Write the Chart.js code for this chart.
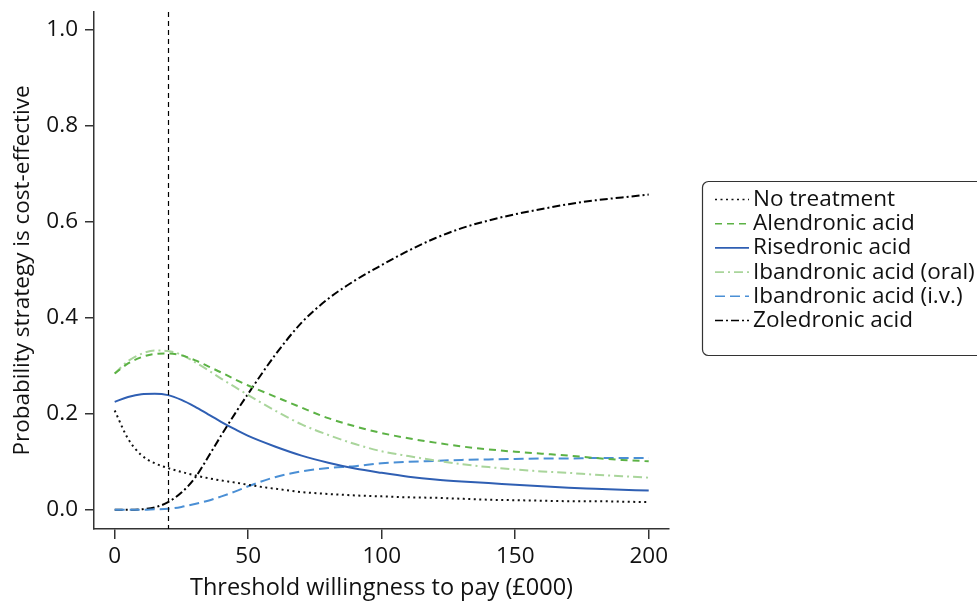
<!DOCTYPE html>
<html>
<head>
<meta charset="utf-8">
<script src="https://cdn.jsdelivr.net/npm/chart.js@4.4.1/dist/chart.umd.min.js"></script>
<style>
  body { margin: 0; background: #fff; }
  #wrap { width: 977px; height: 601px; }
</style>
</head>
<body>
<div id="wrap"><canvas id="ceacChart" width="977" height="601"></canvas></div>
<script>
// willingness-to-pay thresholds (£000)
const wtp = [0, 5, 10, 15, 20, 25, 30, 35, 40, 45, 50, 60, 70, 80, 90, 100, 110, 120, 130, 140, 150, 160, 170, 180, 190, 200];

const noTreatment   = [0.207, 0.148, 0.114, 0.097, 0.087, 0.079, 0.072, 0.066, 0.061, 0.057, 0.052, 0.044, 0.037, 0.033, 0.030, 0.028, 0.026, 0.025, 0.023, 0.021, 0.020, 0.019, 0.018, 0.018, 0.017, 0.016];
const alendronic    = [0.284, 0.305, 0.318, 0.325, 0.326, 0.322, 0.312, 0.299, 0.286, 0.272, 0.259, 0.236, 0.213, 0.191, 0.174, 0.160, 0.149, 0.140, 0.132, 0.126, 0.121, 0.117, 0.113, 0.108, 0.104, 0.101];
const risedronic    = [0.225, 0.235, 0.241, 0.242, 0.239, 0.229, 0.215, 0.199, 0.183, 0.168, 0.154, 0.132, 0.113, 0.098, 0.086, 0.077, 0.069, 0.063, 0.059, 0.056, 0.052, 0.049, 0.046, 0.044, 0.042, 0.040];
const ibandronicOral = [0.284, 0.310, 0.325, 0.332, 0.331, 0.323, 0.308, 0.291, 0.273, 0.256, 0.239, 0.207, 0.178, 0.156, 0.137, 0.122, 0.112, 0.103, 0.095, 0.089, 0.084, 0.080, 0.077, 0.073, 0.070, 0.067];
const ibandronicIV  = [0.000, 0.000, 0.000, 0.001, 0.002, 0.006, 0.012, 0.019, 0.028, 0.038, 0.049, 0.068, 0.080, 0.087, 0.091, 0.097, 0.100, 0.102, 0.104, 0.105, 0.106, 0.107, 0.107, 0.108, 0.108, 0.108];
const zoledronic    = [0.000, 0.000, 0.001, 0.005, 0.016, 0.036, 0.066, 0.110, 0.156, 0.200, 0.242, 0.322, 0.390, 0.440, 0.478, 0.510, 0.540, 0.566, 0.587, 0.603, 0.616, 0.627, 0.637, 0.645, 0.651, 0.657];

const seriesNames = ['No treatment', 'Alendronic acid', 'Risedronic acid', 'Ibandronic acid (oral)', 'Ibandronic acid (i.v.)', 'Zoledronic acid'];
const xTickValues = [0, 50, 100, 150, 200];
const yTickValues = [0.0, 0.2, 0.4, 0.6, 0.8, 1.0];
const wtpThreshold = 20;

const FONT = "'Open Sans', 'DejaVu Sans', sans-serif";
const FONT_SIZE = 22.5;
const AXIS_COLOR = '#333333';

function pts(values) {
    return values.map((v, i) => ({x: wtp[i], y: v}));
}

const styles = [
    {color: '#111111', dash: [2, 3.5], width: 2},
    {color: '#5cb245', dash: [7, 5], width: 2},
    {color: '#2f5fb3', dash: [], width: 2},
    {color: '#a9d59b', dash: [9, 4, 2, 4], width: 2},
    {color: '#4a8fd5', dash: [10, 5], width: 2},
    {color: '#000000', dash: [8, 3, 2, 3], width: 2}
];
const allValues = [noTreatment, alendronic, risedronic, ibandronicOral, ibandronicIV, zoledronic];

const datasets = allValues.map((vals, i) => ({
    label: seriesNames[i],
    data: pts(vals),
    borderColor: styles[i].color,
    borderDash: styles[i].dash,
    borderWidth: styles[i].width,
    pointRadius: 0,
    fill: false,
    cubicInterpolationMode: 'monotone'
}));

// dashed vertical line at the threshold + legend drawn in a box
const extras = {
    id: 'extras',
    afterDatasetsDraw(chart) {
        const ctx = chart.ctx;
        const area = chart.chartArea;
        const xs = chart.scales.x.getPixelForValue(wtpThreshold);
        ctx.save();
        ctx.strokeStyle = '#000';
        ctx.lineWidth = 1.2;
        ctx.setLineDash([5, 4]);
        ctx.beginPath();
        ctx.moveTo(Math.round(xs) + 0.5, area.top);
        ctx.lineTo(Math.round(xs) + 0.5, area.bottom);
        ctx.stroke();
        ctx.restore();
    },
    afterDraw(chart) {
        const ctx = chart.ctx;
        ctx.save();
        // legend frame
        ctx.strokeStyle = AXIS_COLOR;
        ctx.lineWidth = 1.2;
        ctx.setLineDash([]);
        ctx.beginPath();
        ctx.roundRect(702.5, 181.5, 320, 174, 6);
        ctx.stroke();
        ctx.font = FONT_SIZE + 'px ' + FONT;
        ctx.textBaseline = 'middle';
        ctx.fillStyle = '#111';
        chart.data.datasets.forEach((ds, i) => {
            const y = 199.5 + i * 24.2;
            ctx.strokeStyle = ds.borderColor;
            ctx.lineWidth = 1.6;
            ctx.setLineDash(ds.borderDash);
            ctx.beginPath();
            ctx.moveTo(715, y);
            ctx.lineTo(749, y);
            ctx.stroke();
            ctx.fillText(ds.label, 753, y);
        });
        ctx.restore();
    }
};

new Chart(document.getElementById('ceacChart').getContext('2d'), {
    type: 'line',
    data: {datasets: datasets},
    plugins: [extras],
    options: {
        responsive: false,
        animation: false,
        layout: {padding: {left: 0, right: 308, top: 12, bottom: 0}},
        plugins: {legend: {display: false}, tooltip: {enabled: false}},
        scales: {
            x: {
                type: 'linear',
                min: -7.75,
                max: 207.6,
                afterBuildTicks: s => { s.ticks = xTickValues.map(v => ({value: v})); },
                afterFit: s => { s.height = 72; s.paddingLeft = 0; s.paddingRight = 0; },
                border: {display: true, color: AXIS_COLOR, width: 1.5},
                grid: {drawOnChartArea: false, drawTicks: true, tickLength: 10, color: AXIS_COLOR, lineWidth: 1.5},
                ticks: {color: '#111', padding: 4, maxRotation: 0, font: {family: FONT, size: FONT_SIZE}, callback: v => String(v)},
                title: {display: true, text: 'Threshold willingness to pay (£000)', color: '#111', font: {family: FONT, size: 23.5}, padding: {top: 0, bottom: -1}}
            },
            y: {
                type: 'linear',
                min: -0.04,
                max: 1.0375,
                afterBuildTicks: s => { s.ticks = yTickValues.map(v => ({value: v})); },
                afterFit: s => { s.width = 94; s.paddingTop = 0; s.paddingBottom = 0; },
                border: {display: true, color: AXIS_COLOR, width: 1.5},
                grid: {drawOnChartArea: false, drawTicks: true, tickLength: 9, color: AXIS_COLOR, lineWidth: 1.5},
                ticks: {color: '#111', padding: 7, font: {family: FONT, size: FONT_SIZE}, callback: v => v.toFixed(1)},
                title: {display: true, text: 'Probability strategy is cost-effective', color: '#111', font: {family: FONT, size: FONT_SIZE}, padding: {top: 9, bottom: 0}}
            }
        }
    }
});
</script>
</body>
</html>
